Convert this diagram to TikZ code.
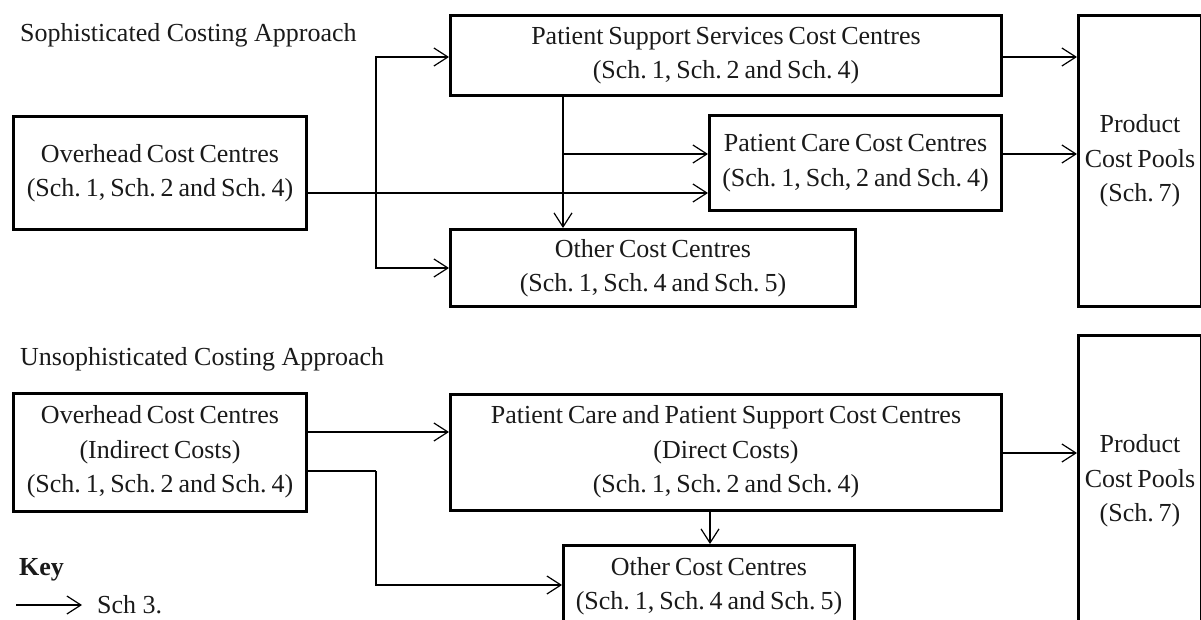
\documentclass[tikz,border=0pt]{standalone}
\usepackage{fontspec}
\setmainfont{Liberation Serif}
\usetikzlibrary{arrows.meta}
\frenchspacing
\definecolor{ink}{HTML}{1A1A1A}
\newcommand{\boxfont}{\fontsize{26}{34.5}\selectfont\spaceskip=0.19em plus 0.05em minus 0.03em\relax}
\tikzset{
  costbox/.style={draw=black, line width=3pt, inner sep=0pt, align=center,
    text=ink, font=\boxfont},
  label/.style={text=ink, inner sep=0pt, font=\fontsize{26}{34.5}\selectfont},
  flow/.style={draw=black, line width=1.2pt,
    -{Straight Barb[length=14pt,width=18pt]}},
  plain/.style={draw=black, line width=1.2pt}
}
\begin{document}
\begin{tikzpicture}[x=1pt,y=-1pt]
\useasboundingbox (0,0) rectangle (1201,620);
\clip (0,0) rectangle (1201,620);

% ---------- sophisticated approach ----------
\node[label, anchor=base west] (title1) at (20,42) {Sophisticated Costing Approach};

\node[costbox, minimum width=293pt, minimum height=113pt] (oh1) at (160,173)
  {Overhead Cost Centres\\(Sch. 1, Sch. 2 and Sch. 4)};
\node[costbox, minimum width=551pt, minimum height=80pt] (pss1) at (726,55.5)
  {Patient Support Services Cost Centres\\(Sch. 1, Sch. 2 and Sch. 4)};
\node[costbox, minimum width=292pt, minimum height=95pt] (pc1) at (855.5,163)
  {Patient Care Cost Centres\\(Sch. 1, Sch, 2 and Sch. 4)};
\node[costbox, minimum width=405pt, minimum height=77pt] (oc1) at (653,268)
  {Other Cost Centres\\(Sch. 1, Sch. 4 and Sch. 5)};
\node[costbox, minimum width=123pt, minimum height=291pt] (pcp1) at (1140,161)
  {Product\\Cost Pools\\(Sch. 7)};

\coordinate (j1) at (376,193);
\coordinate (j2) at (563,154);

\draw[flow] (oh1.east |- j1) -- (pc1.west |- j1);
\draw[flow] (j1) |- (pss1.west |- 0,57);
\draw[flow] (j1) |- (oc1.west |- 0,268);
\draw[flow] (pss1.south -| j2) -- (oc1.north -| j2);
\draw[flow] (j2) -- (pc1.west |- j2);
\draw[flow] (pss1.east |- 0,57) -- (pcp1.west |- 0,57);
\draw[flow] (pc1.east |- j2) -- (pcp1.west |- j2);

% ---------- unsophisticated approach ----------
\node[label, anchor=base west] (title2) at (20,365) {Unsophisticated Costing Approach};

\node[costbox, minimum width=293pt, minimum height=118pt] (oh2) at (160,452)
  {Overhead Cost Centres\\(Indirect Costs)\\(Sch. 1, Sch. 2 and Sch. 4)};
\node[costbox, minimum width=551pt, minimum height=116pt] (pcs2) at (726,452)
  {Patient Care and Patient Support Cost Centres\\(Direct Costs)\\(Sch. 1, Sch. 2 and Sch. 4)};
\node[costbox, minimum width=291pt, minimum height=81pt] (oc2) at (709,586)
  {Other Cost Centres\\(Sch. 1, Sch. 4 and Sch. 5)};
\node[costbox, minimum width=123pt, minimum height=291pt] (pcp2) at (1140,481)
  {Product\\Cost Pools\\(Sch. 7)};

\coordinate (j3) at (376,471);
\coordinate (j4) at (376,585);

\draw[flow] (oh2.east |- 0,432) -- (pcs2.west |- 0,432);
\draw[plain] (oh2.east |- j3) -- (j3);
\draw[flow] (j3) -- (j4) -- (oc2.west |- j4);
\draw[flow] (pcs2.south -| 710,0) -- (oc2.north -| 710,0);
\draw[flow] (pcs2.east |- 0,453) -- (pcp2.west |- 0,453);

% ---------- key ----------
\node[label, anchor=base west, font=\fontsize{26}{34.5}\selectfont\bfseries] (key) at (19,575) {Key};
\coordinate (k1) at (16,605);
\coordinate (k2) at (82,605);
\draw[flow] (k1) -- (k2);
\node[label, anchor=base west] (keytext) at (97,613) {Sch 3.};
\end{tikzpicture}
\end{document}
